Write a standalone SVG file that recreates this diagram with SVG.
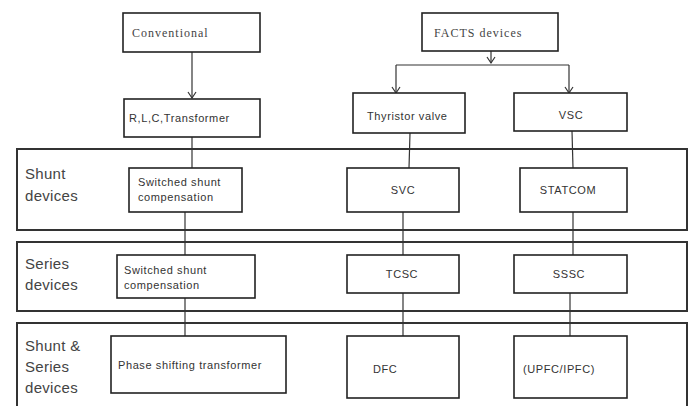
<svg xmlns="http://www.w3.org/2000/svg" width="693" height="406" viewBox="0 0 693 406">
<style>
.box{fill:#fff;stroke:#222;stroke-width:1.6}
.panel{fill:#fff;stroke:#333;stroke-width:2}
.ln{stroke:#333;stroke-width:1.2;fill:none}
.ser{font-family:"Liberation Serif",serif;font-size:12px;letter-spacing:1px;fill:#444}
.t{font-family:"Liberation Sans",Arial,sans-serif;font-size:11px;letter-spacing:0.6px;fill:#333}
.lab{font-family:"Liberation Sans",Arial,sans-serif;font-size:15px;letter-spacing:0.3px;fill:#444}
</style>
<defs>
<marker id="ar" markerWidth="10" markerHeight="10" refX="8" refY="5" orient="auto" markerUnits="userSpaceOnUse" viewBox="0 0 10 10">
<path d="M2,1 L8,5 L2,9" fill="none" stroke="#333" stroke-width="1.2"/>
</marker>
</defs>
<rect width="693" height="406" fill="#fff"/>
<g id="panel-shunt"><rect class="panel" x="17" y="149" width="670" height="81"/><text class="lab" x="25" y="179">Shunt</text><text class="lab" x="25" y="201">devices</text></g>
<g id="panel-series"><rect class="panel" x="17" y="242" width="670" height="69"/><text class="lab" x="25" y="269">Series</text><text class="lab" x="25" y="290">devices</text></g>
<g id="panel-both"><rect class="panel" x="17" y="323" width="670" height="90"/><text class="lab" x="25" y="351">Shunt &amp;</text><text class="lab" x="25" y="372">Series</text><text class="lab" x="25" y="393">devices</text></g>
<g id="connectors">
<line class="ln" x1="192" y1="52" x2="192" y2="98" marker-end="url(#ar)"/>
<line class="ln" x1="192" y1="137" x2="192" y2="168"/>
<line class="ln" x1="185" y1="212" x2="185" y2="255"/>
<line class="ln" x1="185" y1="298" x2="185" y2="336"/>
<line class="ln" x1="491" y1="51" x2="491" y2="63" marker-end="url(#ar)"/>
<line class="ln" x1="396" y1="65" x2="569" y2="65"/>
<line class="ln" x1="396" y1="65" x2="396" y2="93" marker-end="url(#ar)"/>
<line class="ln" x1="569" y1="65" x2="569" y2="93" marker-end="url(#ar)"/>
<line class="ln" x1="410" y1="133" x2="409" y2="168"/>
<line class="ln" x1="572" y1="131" x2="573" y2="168"/>
<line class="ln" x1="403" y1="212" x2="403" y2="255"/>
<line class="ln" x1="573" y1="212" x2="573" y2="255"/>
<line class="ln" x1="403" y1="293" x2="403" y2="336"/>
<line class="ln" x1="570" y1="293" x2="570" y2="336"/>
</g>
<g id="conventional"><rect class="box" x="123" y="13" width="137" height="39"/><text class="ser" x="132" y="37">Conventional</text></g>
<g id="facts"><rect class="box" x="422" y="13" width="136" height="38"/><text class="ser" x="434" y="37">FACTS devices</text></g>
<g id="rlc"><rect class="box" x="124" y="99" width="136" height="38"/><text class="t" x="129" y="122">R,L,C,Transformer</text></g>
<g id="thyristor"><rect class="box" x="353" y="93" width="112" height="40"/><text class="t" x="367" y="120">Thyristor valve</text></g>
<g id="vsc"><rect class="box" x="514" y="93" width="113" height="38"/><text class="t" x="571" y="119" text-anchor="middle">VSC</text></g>
<g id="sw-shunt"><rect class="box" x="129" y="168" width="113" height="44"/><text class="t" x="138" y="186">Switched shunt</text><text class="t" x="138" y="201">compensation</text></g>
<g id="svc"><rect class="box" x="347" y="168" width="112" height="44"/><text class="t" x="403" y="194" text-anchor="middle">SVC</text></g>
<g id="statcom"><rect class="box" x="520" y="168" width="107" height="44"/><text class="t" x="568" y="194" text-anchor="middle">STATCOM</text></g>
<g id="sw-series"><rect class="box" x="117" y="255" width="138" height="43"/><text class="t" x="124" y="274">Switched shunt</text><text class="t" x="124" y="289">compensation</text></g>
<g id="tcsc"><rect class="box" x="347" y="255" width="112" height="38"/><text class="t" x="402" y="278" text-anchor="middle">TCSC</text></g>
<g id="sssc"><rect class="box" x="514" y="255" width="113" height="38"/><text class="t" x="569" y="278" text-anchor="middle">SSSC</text></g>
<g id="pst"><rect class="box" x="111" y="336" width="175" height="57"/><text class="t" x="118" y="369">Phase shifting  transformer</text></g>
<g id="dfc"><rect class="box" x="347" y="336" width="112" height="62"/><text class="t" x="373" y="373">DFC</text></g>
<g id="upfc"><rect class="box" x="514" y="336" width="113" height="62"/><text class="t" x="523" y="373">(UPFC/IPFC)</text></g>
</svg>
